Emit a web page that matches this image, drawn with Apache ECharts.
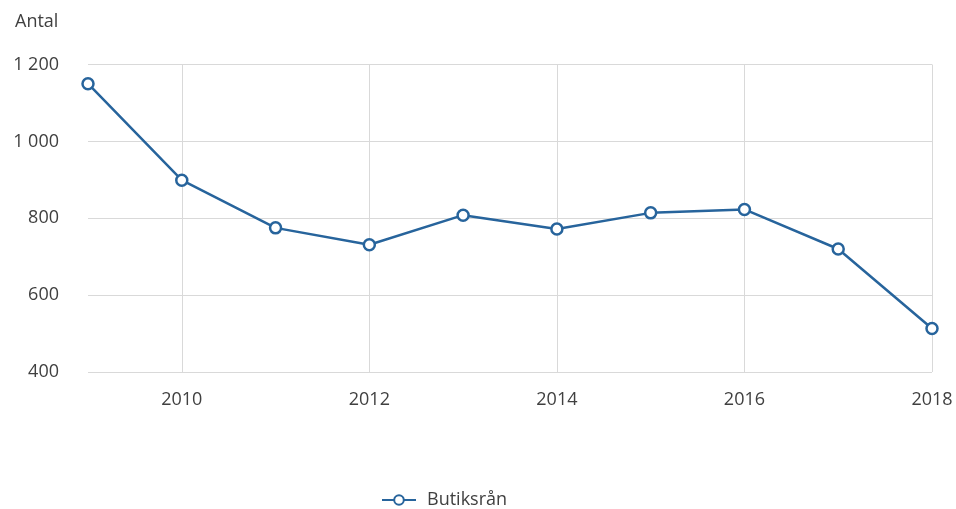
<!DOCTYPE html>
<html>
<head>
<meta charset="utf-8">
<script src="https://cdn.jsdelivr.net/npm/echarts@6/dist/echarts.min.js"></script>
<style>
  html, body { margin: 0; padding: 0; background: #fff; }
  #chart { width: 956px; height: 509px; }
</style>
</head>
<body>
<div id="chart"></div>
<script>
// data
const years = ['2009', '2010', '2011', '2012', '2013', '2014', '2015', '2016', '2017', '2018'];
const butiksran = [1150, 899, 775, 731, 808, 772, 814, 823, 720, 513];
const seriesName = 'Butiksrån';
const yTitle = 'Antal';

const chart = echarts.init(document.getElementById('chart'));

// "1 200" style thousands separator
function fmt(v) {
  return String(v).replace(/\B(?=(\d{3})+(?!\d))/g, ' ');
}

const everyOther = (i) => i % 2 === 1;

chart.setOption({
  animation: false,
  backgroundColor: '#fff',
  textStyle: { fontFamily: 'Open Sans' },
  title: {
    text: yTitle,
    left: 10,
    top: 8,
    textStyle: { fontSize: 18, fontWeight: 'normal', color: '#404040', fontFamily: 'Open Sans' }
  },
  grid: { left: 88, right: 24, top: 64.5, bottom: 137, containLabel: false },
  legend: {
    top: 486,
    left: 376,
    itemWidth: 34,
    itemHeight: 12,
    textStyle: { fontSize: 18, color: '#404040', padding: [0, 0, 0, 6] },
    data: [seriesName]
  },
  xAxis: {
    type: 'category',
    data: years,
    boundaryGap: false,
    axisLine: { show: false },
    axisTick: { show: false },
    axisLabel: {
      interval: everyOther,
      color: '#404040',
      fontSize: 18,
      margin: 19
    },
    splitLine: {
      show: true,
      interval: everyOther,
      lineStyle: { color: '#d9d9d9', width: 1 }
    }
  },
  yAxis: {
    type: 'value',
    min: 400,
    max: 1200,
    interval: 200,
    axisLine: { show: false },
    axisTick: { show: false },
    axisLabel: {
      color: '#404040',
      fontSize: 18,
      margin: 29,
      formatter: fmt
    },
    splitLine: { lineStyle: { color: '#d9d9d9', width: 1 } }
  },
  series: [{
    name: seriesName,
    type: 'line',
    data: butiksran,
    symbol: 'circle',
    symbolSize: 11,
    lineStyle: { color: '#27649c', width: 2.5 },
    itemStyle: { color: '#fff', borderColor: '#27649c', borderWidth: 2.5 }
  }]
});
</script>
</body>
</html>
